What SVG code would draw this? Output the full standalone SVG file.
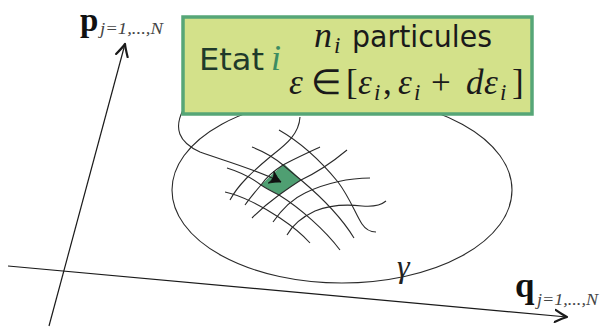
<svg xmlns="http://www.w3.org/2000/svg" width="602" height="327" viewBox="0 0 602 327">
<defs>
<marker id="vee" markerUnits="userSpaceOnUse" markerWidth="26" markerHeight="26" viewBox="-13 -13 26 26" refX="0" refY="0" orient="auto"><path d="M-12,-6 Q-4,-1.5 0,0 Q-4,1.5 -12,6" fill="none" stroke="#1a1a1a" stroke-width="2.2" stroke-linecap="round" stroke-linejoin="round"/></marker>
<marker id="dart" markerUnits="userSpaceOnUse" markerWidth="24" markerHeight="24" viewBox="-12 -12 24 24" refX="0" refY="0" orient="auto"><path d="M-11,-6.5 Q-5,-2 0,0 Q-5,2 -11,6.5 Q-7,0 -11,-6.5 Z" fill="#111" stroke="#111" stroke-width="0.8" stroke-linejoin="round"/></marker>
</defs>
<style>
.ln{fill:none;stroke:#2a2a2a;stroke-width:1.1}
.ax{fill:none;stroke:#1a1a1a;stroke-width:1.2}
.sans{font-family:"DejaVu Sans",sans-serif}
.mi{font-family:"Liberation Serif",serif;font-style:italic}
.bf{font-family:"Liberation Serif",serif;font-weight:bold}
.sub{font-family:"Liberation Serif",serif;font-style:italic;fill:#444;font-size:16px}
</style>
<rect width="602" height="327" fill="#fff"/>

<g id="axes">
<path class="ax" d="M49,326 L125,44" marker-end="url(#vee)"/>
<path class="ax" d="M8,266 L567,317" marker-end="url(#vee)"/>
<text class="bf" x="80" y="31" font-size="33" fill="#111">p</text>
<text class="sub" x="100" y="34" textLength="63" lengthAdjust="spacingAndGlyphs">j=1,...,N</text>
<text class="bf" x="515" y="297" font-size="35" fill="#111">q</text>
<text class="sub" x="537" y="305" textLength="61" lengthAdjust="spacingAndGlyphs">j=1,...,N</text>
</g>

<g id="gamma">
<ellipse cx="342" cy="190" rx="170" ry="93" fill="none" stroke="#2a2a2a" stroke-width="1.1"/>
<text class="mi" x="397" y="277" font-size="32" fill="#222">γ</text>
</g>

<g id="cellule">
<path d="M284,164 Q293,172 301,180 Q290,187 279,195 Q270,190 261,185 Q272,174 284,164 Z" fill="#4f9f72"/>
<path class="ln" d="M279,130 C300,142 320,160 338,182 C350,198 356,215 362,224 C366,230 371,232 376,232"/>
<path class="ln" d="M252,147 C265,152 276,159 283,165 C290,171 295,175 301,180 C320,196 340,215 354,238"/>
<path class="ln" d="M227,168 C240,172 252,178 261,185 C267,189 273,192 279,195 C300,208 325,230 340,250"/>
<path class="ln" d="M225,192 C240,195 262,206 280,218 C292,226 302,234 310,243"/>
<path class="ln" d="M300,117 C299,135 285,145 270,157 C252,172 238,185 230,200"/>
<path class="ln" d="M320,147 C305,154 292,160 283,165 C272,172 265,179 261,185 C255,192 250,198 245,205"/>
<path class="ln" d="M347,150 C335,160 318,172 301,180 C293,185 286,190 279,195 C268,203 258,212 252,218"/>
<path class="ln" d="M370,178 C350,178 325,183 305,193 C290,200 280,212 273,222"/>
<path class="ln" d="M386,201 C380,206 372,207 362,206 C345,204 330,205 315,211 C300,218 292,226 287,235"/>
</g>

<g id="connectors">
<path class="ln" d="M183,110 C174,128 178,142 200,152 C225,161 252,168 281,182" marker-end="url(#dart)"/>
</g>

<g id="etat">
<rect x="183" y="17" width="349" height="97" fill="#d3e18a" stroke="#56a677" stroke-width="3.5"/>
<text class="sans" x="199" y="70" font-size="31" fill="#1f3a2b" textLength="65" lengthAdjust="spacingAndGlyphs">Etat</text>
<text class="mi" x="271" y="70" font-size="36" fill="#3c8c62">i</text>
<text class="mi" x="314" y="47" font-size="36" fill="#1a1a1a">n</text>
<text class="mi" x="334" y="53" font-size="23" fill="#1a1a1a">i</text>
<text class="sans" x="352" y="47" font-size="30" fill="#1a1a1a" textLength="140" lengthAdjust="spacingAndGlyphs">particules</text>
<text class="mi" y="94" font-size="35" fill="#1a1a1a"><tspan x="289">ε</tspan><tspan x="311" font-style="normal">∈</tspan><tspan x="346" font-style="normal">[</tspan><tspan x="358">ε</tspan><tspan x="374" y="100" font-size="23">i</tspan><tspan x="383" y="94" font-style="normal">,</tspan><tspan x="398">ε</tspan><tspan x="414" y="100" font-size="23">i</tspan><tspan x="431" y="94" font-style="normal">+</tspan><tspan x="466">d</tspan><tspan x="484">ε</tspan><tspan x="500" y="100" font-size="23">i</tspan><tspan x="512" y="94" font-style="normal">]</tspan></text>
</g>
</svg>
